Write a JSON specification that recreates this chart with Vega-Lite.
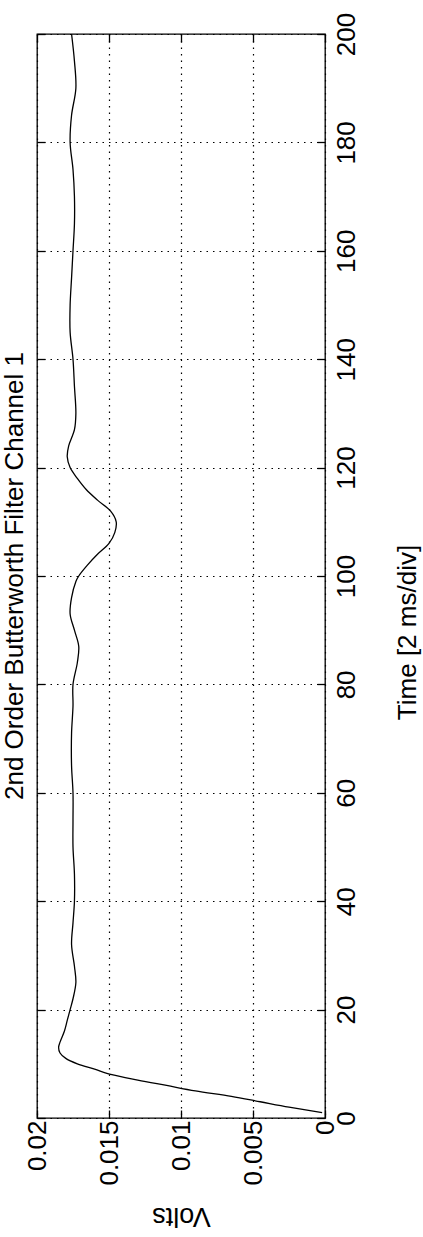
{
  "$schema": "https://vega.github.io/schema/vega-lite/v6.json",
  "width": 288,
  "height": 1084,
  "autosize": "none",
  "padding": {"left": 37, "top": 34, "right": 98, "bottom": 119},
  "background": "white",
  "config": {
    "font": "Liberation Sans",
    "view": {"stroke": "black", "strokeWidth": 1.3},
    "axis": {"domain": false, "labelColor": "black", "titleColor": "black", "tickColor": "black", "titleFontWeight": "normal", "labelFont": "Liberation Sans", "titleFont": "Liberation Sans"}
  },
  "title": {
    "text": "2nd Order Butterworth Filter Channel 1",
    "orient": "left",
    "anchor": "middle",
    "angle": -90,
    "baseline": "alphabetic",
    "offset": -25,
    "fontSize": 26,
    "fontWeight": "normal",
    "font": "Liberation Sans",
    "color": "black"
  },
  "data": {
    "values": [
      {"t": 1, "v": 0.0002}, {"t": 2, "v": 0.0025}, {"t": 3, "v": 0.0045}, {"t": 4, "v": 0.0065},
      {"t": 5, "v": 0.009}, {"t": 6, "v": 0.011}, {"t": 7, "v": 0.013}, {"t": 8, "v": 0.0148},
      {"t": 9, "v": 0.016}, {"t": 10, "v": 0.0172}, {"t": 11, "v": 0.018}, {"t": 12, "v": 0.0184},
      {"t": 13, "v": 0.0185}, {"t": 14, "v": 0.0184}, {"t": 16, "v": 0.0181}, {"t": 18, "v": 0.0179},
      {"t": 20, "v": 0.0177}, {"t": 22, "v": 0.0175}, {"t": 25, "v": 0.0173}, {"t": 28, "v": 0.0174},
      {"t": 32, "v": 0.0176}, {"t": 36, "v": 0.0175}, {"t": 40, "v": 0.0174}, {"t": 45, "v": 0.0174},
      {"t": 50, "v": 0.0175}, {"t": 55, "v": 0.0175}, {"t": 60, "v": 0.0175}, {"t": 65, "v": 0.0176},
      {"t": 71, "v": 0.0176}, {"t": 76, "v": 0.0175}, {"t": 80, "v": 0.0175}, {"t": 84, "v": 0.0172},
      {"t": 87, "v": 0.0171}, {"t": 90, "v": 0.0174}, {"t": 93, "v": 0.0177}, {"t": 96, "v": 0.0176},
      {"t": 99, "v": 0.0173}, {"t": 100, "v": 0.0171}, {"t": 102, "v": 0.0165}, {"t": 104, "v": 0.0158},
      {"t": 106, "v": 0.015}, {"t": 108, "v": 0.0146}, {"t": 110, "v": 0.0145}, {"t": 112, "v": 0.0149},
      {"t": 114, "v": 0.0158}, {"t": 116, "v": 0.0166}, {"t": 118, "v": 0.0172}, {"t": 120, "v": 0.0177},
      {"t": 122, "v": 0.0179}, {"t": 124, "v": 0.0178}, {"t": 127, "v": 0.0174}, {"t": 130, "v": 0.0173},
      {"t": 135, "v": 0.0174}, {"t": 140, "v": 0.0175}, {"t": 145, "v": 0.0177}, {"t": 150, "v": 0.0177},
      {"t": 155, "v": 0.0176}, {"t": 160, "v": 0.0175}, {"t": 165, "v": 0.0174}, {"t": 170, "v": 0.0174},
      {"t": 175, "v": 0.0175}, {"t": 180, "v": 0.0177}, {"t": 185, "v": 0.0176}, {"t": 190, "v": 0.0173},
      {"t": 195, "v": 0.0174}, {"t": 200, "v": 0.0176}
    ]
  },
  "layer": [
    {
      "mark": {"type": "line", "color": "black", "strokeWidth": 1.3, "clip": true, "interpolate": "catmull-rom"},
      "encoding": {
        "x": {
          "field": "v", "type": "quantitative",
          "scale": {"domain": [0, 0.02], "reverse": true, "nice": false, "zero": false},
          "axis": {
            "orient": "bottom",
            "values": [0, 0.005, 0.01, 0.015, 0.02],
            "format": "~g",
            "title": "Volts",
            "titleAngle": 180,
            "titleAlign": "center",
            "titleBaseline": "alphabetic",
            "titleY": 89,
            "titleFontSize": 27,
            "labelAngle": -90,
            "labelAlign": "right",
            "labelBaseline": "middle",
            "labelFontSize": 26,
            "labelPadding": 10,
            "labelFlush": false,
            "labelOverlap": false,
            "ticks": true,
            "tickSize": -8,
            "tickWidth": 1.3,
            "grid": true,
            "gridColor": "black",
            "gridDash": [1.5, 5],
            "gridWidth": 1.2,
            "gridOpacity": 1
          }
        },
        "y": {
          "field": "t", "type": "quantitative",
          "scale": {"domain": [0, 200], "nice": false, "zero": false},
          "axis": {
            "orient": "right",
            "values": [0, 20, 40, 60, 80, 100, 120, 140, 160, 180, 200],
            "title": "Time [2 ms/div]",
            "titleAngle": -90,
            "titleAlign": "center",
            "titleBaseline": "alphabetic",
            "titleX": 90,
            "titleY": 598,
            "titleFontSize": 26,
            "labelAngle": -90,
            "labelAlign": "center",
            "labelBaseline": "top",
            "labelFontSize": 26,
            "labelPadding": 16,
            "labelFlush": false,
            "labelOverlap": false,
            "ticks": true,
            "tickSize": -8,
            "tickWidth": 1.3,
            "grid": true,
            "gridColor": "black",
            "gridDash": [1.5, 5],
            "gridWidth": 1.2,
            "gridOpacity": 1
          }
        },
        "order": {"field": "t", "type": "quantitative"}
      }
    },
    {
      "mark": {"type": "line", "color": "black", "strokeOpacity": 0},
      "encoding": {
        "x": {
          "field": "v", "type": "quantitative",
          "axis": {"orient": "top", "values": [0, 0.005, 0.01, 0.015, 0.02], "labels": false, "title": null, "grid": false, "ticks": true, "tickSize": -8, "tickWidth": 1.3}
        },
        "y": {
          "field": "t", "type": "quantitative",
          "axis": {"orient": "left", "values": [0, 20, 40, 60, 80, 100, 120, 140, 160, 180, 200], "labels": false, "title": null, "grid": false, "ticks": true, "tickSize": -8, "tickWidth": 1.3}
        },
        "order": {"field": "t", "type": "quantitative"}
      }
    }
  ],
  "resolve": {"axis": {"x": "independent", "y": "independent"}}
}
